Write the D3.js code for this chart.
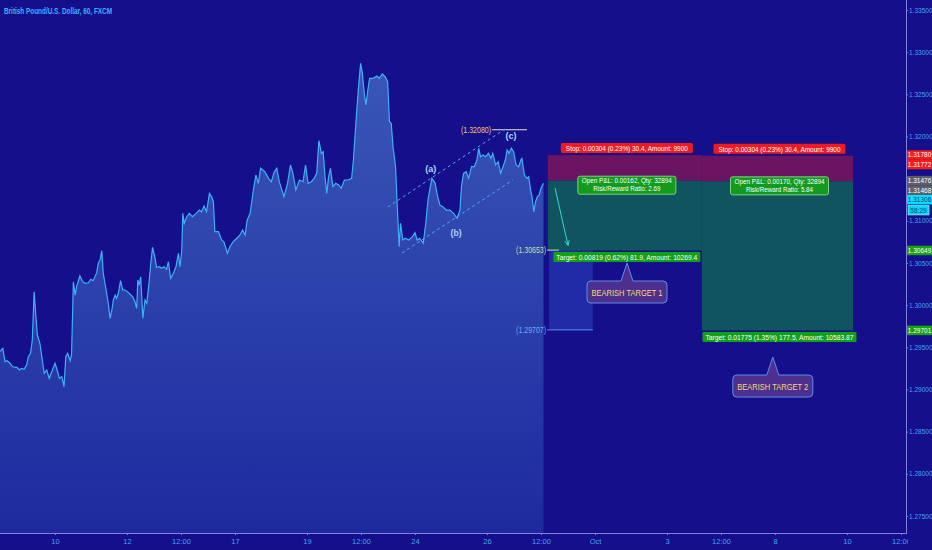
<!DOCTYPE html>
<html><head><meta charset="utf-8">
<script src="https://cdn.jsdelivr.net/npm/d3@7"></script>
<style>body{margin:0;background:#150f8b;overflow:hidden}svg{display:block}</style>
</head><body><svg id="c" width="932" height="550"></svg>
<script>
// ---------- DATA ----------
const title = "British Pound/U.S. Dollar, 60, FXCM";
// [trading-day position, close]
const priceSeries = [[-1.53,1.29448],[-1.45,1.29488],[-1.39,1.29330],[-1.33,1.29341],[-1.25,1.29311],[-1.18,1.29270],[-1.06,1.29263],[-0.99,1.29231],[-0.93,1.29251],[-0.86,1.29239],[-0.79,1.29290],[-0.74,1.29389],[-0.68,1.29429],[-0.63,1.29587],[-0.58,1.30160],[-0.53,1.29863],[-0.49,1.29646],[-0.42,1.29548],[-0.34,1.29311],[-0.30,1.29192],[-0.23,1.29231],[-0.16,1.29133],[-0.09,1.29211],[0,1.29311],[0.06,1.29231],[0.12,1.29133],[0.19,1.29152],[0.25,1.29033],[0.30,1.29389],[0.35,1.29429],[0.42,1.29341],[0.46,1.29409],[0.51,1.30278],[0.56,1.30120],[0.60,1.30219],[0.69,1.30346],[0.77,1.30278],[0.83,1.30259],[0.93,1.30266],[0.99,1.30307],[1.06,1.30290],[1.16,1.30385],[1.20,1.30496],[1.25,1.30535],[1.30,1.30646],[1.34,1.30378],[1.42,1.30180],[1.48,1.30022],[1.53,1.29844],[1.58,1.29943],[1.62,1.30061],[1.67,1.30120],[1.71,1.30081],[1.76,1.30141],[1.82,1.30290],[1.88,1.30180],[1.94,1.30180],[2.01,1.30160],[2.08,1.30132],[2.16,1.30100],[2.22,1.30041],[2.27,1.29963],[2.30,1.30298],[2.34,1.30239],[2.38,1.30337],[2.44,1.29844],[2.50,1.30061],[2.55,1.30022],[2.61,1.30259],[2.66,1.30496],[2.71,1.30686],[2.78,1.30556],[2.82,1.30449],[2.90,1.30456],[2.96,1.30437],[3.03,1.30456],[3.10,1.30425],[3.15,1.30515],[3.21,1.30318],[3.29,1.30378],[3.36,1.30456],[3.43,1.30615],[3.47,1.30456],[3.52,1.30634],[3.55,1.31089],[3.59,1.30971],[3.66,1.31049],[3.73,1.31089],[3.82,1.31049],[3.92,1.31089],[4.01,1.31128],[4.07,1.31108],[4.14,1.31176],[4.21,1.31108],[4.29,1.31326],[4.35,1.31286],[4.40,1.31227],[4.44,1.30871],[4.54,1.30871],[4.63,1.30773],[4.69,1.30752],[4.79,1.30615],[4.86,1.30693],[4.95,1.30752],[5.05,1.30793],[5.14,1.30832],[5.21,1.30891],[5.28,1.30832],[5.34,1.31010],[5.42,1.31089],[5.51,1.31366],[5.58,1.31543],[5.65,1.31445],[5.71,1.31626],[5.83,1.31583],[5.93,1.31504],[6.01,1.31464],[6.09,1.31583],[6.16,1.31623],[6.23,1.31464],[6.36,1.31286],[6.46,1.31445],[6.54,1.31662],[6.61,1.31564],[6.69,1.31366],[6.79,1.31484],[6.89,1.31464],[6.96,1.31662],[7.03,1.31445],[7.12,1.31464],[7.20,1.31504],[7.27,1.31564],[7.33,1.31950],[7.40,1.31801],[7.45,1.31820],[7.50,1.31523],[7.55,1.31326],[7.60,1.31523],[7.65,1.31623],[7.72,1.31405],[7.80,1.31445],[7.88,1.31425],[7.95,1.31386],[8.04,1.31484],[8.14,1.31484],[8.24,1.31504],[8.29,1.31721],[8.37,1.32235],[8.44,1.32631],[8.49,1.32868],[8.54,1.32749],[8.59,1.32512],[8.64,1.32373],[8.69,1.32551],[8.74,1.32690],[8.84,1.32690],[8.94,1.32717],[9.01,1.32690],[9.09,1.32741],[9.17,1.32709],[9.24,1.32650],[9.29,1.32175],[9.34,1.32156],[9.39,1.31879],[9.46,1.31642],[9.50,1.31247],[9.56,1.30693],[9.60,1.30971],[9.66,1.30773],[9.73,1.30793],[9.83,1.30773],[9.93,1.30812],[10.00,1.30859],[10.06,1.30773],[10.13,1.30793],[10.23,1.30734],[10.30,1.30971],[10.36,1.31247],[10.41,1.31366],[10.47,1.31504],[10.56,1.31445],[10.63,1.31286],[10.69,1.31188],[10.77,1.31168],[10.87,1.31128],[10.97,1.31128],[11.07,1.31089],[11.17,1.31030],[11.25,1.31128],[11.29,1.31405],[11.35,1.31564],[11.42,1.31583],[11.49,1.31504],[11.57,1.31642],[11.65,1.31642],[11.72,1.31721],[11.77,1.31860],[11.82,1.31760],[11.89,1.31781],[11.96,1.31760],[12.04,1.31801],[12.11,1.31741],[12.16,1.31801],[12.24,1.31662],[12.31,1.31701],[12.38,1.31564],[12.43,1.31623],[12.51,1.31721],[12.56,1.31840],[12.61,1.31801],[12.68,1.31860],[12.74,1.31820],[12.81,1.31662],[12.88,1.31642],[12.94,1.31721],[12.97,1.31741],[13.04,1.31543],[13.11,1.31504],[13.16,1.31523],[13.21,1.31366],[13.25,1.31286],[13.30,1.31108],[13.35,1.31227],[13.40,1.31286],[13.45,1.31306],[13.50,1.31386],[13.57,1.31445]];

const yTickValues = [1.275,1.280,1.285,1.290,1.295,1.300,1.305,1.310,1.315,1.320,1.325,1.330,1.335];
const xTickDays   = [0,2,3.5,5,7,8.5,10,12,13.5,15,17,18.5,20,22,23.5];
const xTickLabels = ["10","12","12:00","17","19","12:00","24","26","12:00","Oct","3","12:00","8","10","12:00"];

// short positions
const posStart  = [13.69, 17.97];
const posEnd    = [17.97, 22.17];
const posEntry  = [1.31476, 1.31468];
const posStop   = [1.31780, 1.31772];
const posTarget = [1.30649, 1.29701];
const stopTexts   = ["Stop: 0.00304 (0.23%) 30.4, Amount: 9900","Stop: 0.00304 (0.23%) 30.4, Amount: 9900"];
const pnlTexts    = ["Open P&L: 0.00162, Qty: 32894","Open P&L: 0.00170, Qty: 32894"];
const rrTexts     = ["Risk/Reward Ratio: 2.69","Risk/Reward Ratio: 5.84"];
const targetTexts = ["Target: 0.00819 (0.62%) 81.9, Amount: 10269.4","Target: 0.01775 (1.35%) 177.5, Amount: 10583.87"];

// callouts
const calloutTexts  = ["BEARISH TARGET 1","BEARISH TARGET 2"];
const calloutDays   = [15.89, 19.94];
const calloutPrices = [1.30500, 1.29385];

// wave labels
const waveTexts  = ["(a)","(b)","(c)"];
const waveDays   = [10.44, 11.14, 12.67];
const wavePrices = [1.31615, 1.30856, 1.32006];

// channel lines [t0,p0,t1,p1]
const channelUpper = [9.25, 1.31164, 12.5, 1.32089];
const channelLower = [9.64, 1.30619, 12.72, 1.31484];

// level labels
const levelTexts  = ["(1.32080)","(1.30653)","(1.29707)"];
const levelPrices = [1.32080, 1.30653, 1.29707];
const levelStart  = [12.14, 13.67, 13.67];
const levelEnd    = [13.11, 14.00, 14.94];

// projected arrow [t0,p0,t1,p1]
const arrowPts = [13.89, 1.31389, 14.25, 1.30713];

// right-axis price tags
const tagPrices = [1.31780,1.31772,1.31476,1.31468,1.31306,1.30649,1.29701];
const tagKinds  = ["stop","stop","entry","entry","last","target","target"];
const countdown = "58:29";

// ---------- DRAW ----------
const FONT = "'Liberation Sans',Arial,sans-serif";
const svg = d3.select("#c");
const plotR = 906, plotB = 533;
const x = d3.scaleLinear().domain([-1.528, 23.64]).range([0, plotR]);
const y = d3.scaleLinear().domain([1.275, 1.335]).range([516, 10]);

svg.append("rect").attr("width",932).attr("height",550).attr("fill","#150f8b");

const defs = svg.append("defs");
const grad = defs.append("linearGradient").attr("id","ag").attr("gradientUnits","userSpaceOnUse")
  .attr("x1",0).attr("x2",0).attr("y1",60).attr("y2",plotB);
grad.append("stop").attr("offset",0).attr("stop-color","#3a57b8");
grad.append("stop").attr("offset",1).attr("stop-color","#1d2a9e");
defs.append("clipPath").attr("id","plotclip").append("rect").attr("x",0).attr("y",0).attr("width",plotR).attr("height",plotB);
defs.append("clipPath").attr("id","xlabclip2").append("rect").attr("x",0).attr("y",-2).attr("width",908).attr("height",20);
defs.append("marker").attr("id","arr").attr("viewBox","0 0 10 10").attr("refX",8).attr("refY",5)
  .attr("markerWidth",6).attr("markerHeight",6).attr("orient","auto-start-reverse")
  .append("path").attr("d","M0,1 L9,5 L0,9").attr("fill","none").attr("stroke","#35d9d0").attr("stroke-width",1.4);

const plot = svg.append("g").attr("clip-path","url(#plotclip)");

// area + line
plot.append("path").datum(priceSeries)
  .attr("d", d3.area().x(d=>x(d[0])).y0(plotB).y1(d=>y(d[1])))
  .attr("fill","url(#ag)");
plot.append("path").datum(priceSeries)
  .attr("d", d3.line().x(d=>x(d[0])).y(d=>y(d[1])))
  .attr("fill","none").attr("stroke","#3cb2f4").attr("stroke-width",1.2);

// projected target zone
plot.append("rect")
  .attr("x", x(levelStart[2])+2).attr("width", x(levelEnd[2]) - x(levelStart[2]) - 2)
  .attr("y", y(levelPrices[1])).attr("height", y(levelPrices[2]) - y(levelPrices[1]))
  .attr("fill","#2736b0").attr("opacity",0.75);

// helpers
function labelBox(g, cx, cy, w, h, fill, stroke, rx){
  g.append("rect").attr("x",cx-w/2).attr("y",cy-h/2).attr("width",w).attr("height",h)
   .attr("rx",rx||0).attr("fill",fill).attr("stroke",stroke||"none").attr("stroke-width",1);
}
function txt(g, tx, ty, s, size, fill, w, anchor, weight){
  const t = g.append("text").attr("x",tx).attr("y",ty).text(s)
    .attr("font-family",FONT).attr("font-size",size).attr("fill",fill)
    .attr("text-anchor",anchor||"middle").attr("font-weight",weight||"normal");
  if (w) t.attr("textLength",w).attr("lengthAdjust","spacingAndGlyphs");
  return t;
}

// positions
const posG = svg.append("g");
posStart.forEach((s,i)=>{
  const x0=x(s), x1=x(posEnd[i]);
  posG.append("rect").attr("x",x0).attr("width",x1-x0).attr("y",y(posStop[i])).attr("height",y(posEntry[i])-y(posStop[i])).attr("fill","#6a1462");
  posG.append("rect").attr("x",x0).attr("width",x1-x0).attr("y",y(posEntry[i])).attr("height",y(posTarget[i])-y(posEntry[i])).attr("fill","#10545f");
});
posStart.forEach((s,i)=>{
  const x0=x(s), x1=x(posEnd[i]), mid=(x0+x1)/2 + 2;
  const ys=y(posStop[i]), ye=y(posEntry[i]), yt=y(posTarget[i]);
  labelBox(posG, mid, ys-7, 132, 10, "#ee1b22", null, 1.5);
  txt(posG, mid, ys-4.2, stopTexts[i], 7.5, "#ffffff", 122);
  labelBox(posG, mid, ye+4.5, 98, 18, "#129b1f", "#7fd07f", 2);
  txt(posG, mid, ye+2.5, pnlTexts[i], 7.5, "#ffffff", 90);
  txt(posG, mid, ye+10.5, rrTexts[i], 7.5, "#ffffff", 67);
  const tw = i===0?147:154;
  labelBox(posG, mid, yt+6.5, tw, 10, "#12a018", null, 1);
  txt(posG, mid, yt+9.3, targetTexts[i], 7.5, "#ffffff", tw-6);
});

// level labels
const levelColors = ["#e3cf6e","#d3dba0","#6fa9f0"];
const levelLineColors = ["#ece4c8","#d3dba0","#4f92ea"];
levelTexts.forEach((s,i)=>{
  const yy=y(levelPrices[i]);
  svg.append("line").attr("x1",x(levelStart[i])).attr("x2",x(levelEnd[i])).attr("y1",yy).attr("y2",yy)
    .attr("stroke",levelLineColors[i]).attr("stroke-width",1);
  txt(svg, x(levelStart[i])-1, yy+3, s, 8.5, levelColors[i], 30, "end");
});

// channel
[channelUpper, channelLower].forEach(c=>{
  svg.append("line").attr("x1",x(c[0])).attr("y1",y(c[1])).attr("x2",x(c[2])).attr("y2",y(c[3]))
    .attr("stroke","#58a6ee").attr("stroke-width",1).attr("stroke-dasharray","3,3");
});
waveTexts.forEach((s,i)=>{
  txt(svg, x(waveDays[i]), y(wavePrices[i])+3.5, s, 9.5, "#a9d6ff", 11, "middle", "bold");
});

// arrow
svg.append("line").attr("x1",x(arrowPts[0])).attr("y1",y(arrowPts[1])).attr("x2",x(arrowPts[2])).attr("y2",y(arrowPts[3]))
  .attr("stroke","#35d9d0").attr("stroke-width",1).attr("marker-end","url(#arr)");

// callouts
calloutTexts.forEach((s,i)=>{
  const ax=x(calloutDays[i]), ay=y(calloutPrices[i]);
  const w=80, h=22, top=ay+18, l=ax-w/2, r=ax+w/2, b=top+h, rr=4;
  const p = `M${l+rr},${top} L${ax-6},${top} L${ax},${ay} L${ax+6},${top} L${r-rr},${top} Q${r},${top} ${r},${top+rr} L${r},${b-rr} Q${r},${b} ${r-rr},${b} L${l+rr},${b} Q${l},${b} ${l},${b-rr} L${l},${top+rr} Q${l},${top} ${l+rr},${top} Z`;
  svg.append("path").attr("d",p).attr("fill","#4c2f8e").attr("stroke","#5b8fe6").attr("stroke-width",1);
  txt(svg, ax, top+14.5, s, 8.5, "#f3dd72", 71);
});

// axes lines
svg.append("line").attr("x1",plotR+0.5).attr("x2",plotR+0.5).attr("y1",0).attr("y2",plotB).attr("stroke","#8280dc").attr("stroke-width",1);
svg.append("line").attr("x1",0).attr("x2",plotR+1).attr("y1",plotB+0.5).attr("y2",plotB+0.5).attr("stroke","#8280dc").attr("stroke-width",1);

// price tag positions (stacked so they do not collide)
const th = 9.5;
let prev = -100;
const tagPos = tagPrices.map(p=>{ const pos=Math.max(y(p), prev+th); prev=pos; return pos; });
const lastPos = tagPos[tagKinds.indexOf("last")];
const cdY = lastPos + th/2 + 1;

// y axis (hide labels fully covered by tags)
const hidden = v => tagPos.some(tp => Math.abs(tp - y(v)) < 4.5);
const yAxisG = svg.append("g").attr("transform",`translate(${plotR},0)`)
  .call(d3.axisRight(y).tickValues(yTickValues).tickFormat(d3.format(".5f")).tickSize(2).tickPadding(1));
yAxisG.select(".domain").remove();
yAxisG.selectAll(".tick line").attr("stroke","#8280dc");
yAxisG.selectAll(".tick text").attr("fill","#3ea6f2").attr("font-family",FONT).attr("font-size",6.5);
yAxisG.selectAll(".tick").filter(d=>hidden(d)).select("text").remove();

const xAxisG = svg.append("g").attr("transform",`translate(0,${plotB})`).attr("clip-path","url(#xlabclip2)")
  .call(d3.axisBottom(x).tickValues(xTickDays).tickFormat((d,i)=>xTickLabels[i]).tickSize(2).tickPadding(4));
xAxisG.select(".domain").remove();
xAxisG.selectAll(".tick line").attr("stroke","#8280dc");
xAxisG.selectAll(".tick text").attr("fill","#3ea6f2").attr("font-family",FONT).attr("font-size",7.5);

// price tags
const tagStyle = {stop:["#f21b1b","#ffffff"], entry:["#5e5e6a","#ffffff"], last:["#00e0ff","#17307e"], target:["#17a117","#ffffff"]};
tagPrices.forEach((p,i)=>{
  const pos = tagPos[i], st = tagStyle[tagKinds[i]];
  svg.append("rect").attr("x",plotR+1).attr("y",pos-th/2).attr("width",932-plotR-1).attr("height",th).attr("fill",st[0]);
  txt(svg, 919.5, pos+2.4, d3.format(".5f")(p), 6.5, st[1]);
});
svg.append("rect").attr("x",908).attr("y",cdY).attr("width",21).attr("height",th).attr("fill","#00d8f6").attr("stroke","#bff6ff").attr("stroke-width",0.6);
txt(svg, 918.5, cdY+th/2+2.4, countdown, 6.5, "#17307e");

// title
txt(svg, 4, 14, title, 8.5, "#3bb5f8", 108, "start", "bold");
</script>
</body></html>
